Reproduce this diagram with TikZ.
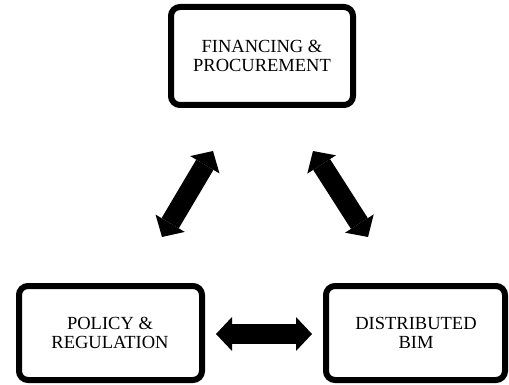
\documentclass[tikz,border=0pt]{standalone}
\usepackage{fontspec}
\setmainfont{Liberation Serif}
\usetikzlibrary{arrows.meta}
\begin{document}
\begin{tikzpicture}[x=1pt,y=-1pt,
  boxstyle/.style={draw=black,line width=6pt,rounded corners=9pt,fill=white},
  labelstyle/.style={align=center,font=\fontsize{18.5}{19}\selectfont,inner sep=0pt},
  bigarrow/.style={line width=20pt,
    {Triangle[width=34pt,length=16pt,line width=0pt]}-{Triangle[width=34pt,length=16pt,line width=0pt]}}]
\useasboundingbox (0,0) rectangle (509,385);
% boxes
\draw[boxstyle] (171,7) rectangle (353,105);
\draw[boxstyle] (19,286) rectangle (202,380);
\draw[boxstyle] (326,286) rectangle (505,380);
\node[labelstyle] (fin) at (262,56) {FINANCING \&\\PROCUREMENT};
\node[labelstyle] (pol) at (110,333) {POLICY \&\\REGULATION};
\node[labelstyle] (bim) at (416,333) {DISTRIBUTED\\BIM};
% arrow end points
\coordinate (a1) at (162,237);
\coordinate (a2) at (213,151);
\coordinate (b1) at (313,151);
\coordinate (b2) at (368,237);
\coordinate (c1) at (216,334);
\coordinate (c2) at (312,334);
\draw[bigarrow] (a1) -- (a2);
\draw[bigarrow] (b1) -- (b2);
\draw[bigarrow] (c1) -- (c2);
\end{tikzpicture}
\end{document}
